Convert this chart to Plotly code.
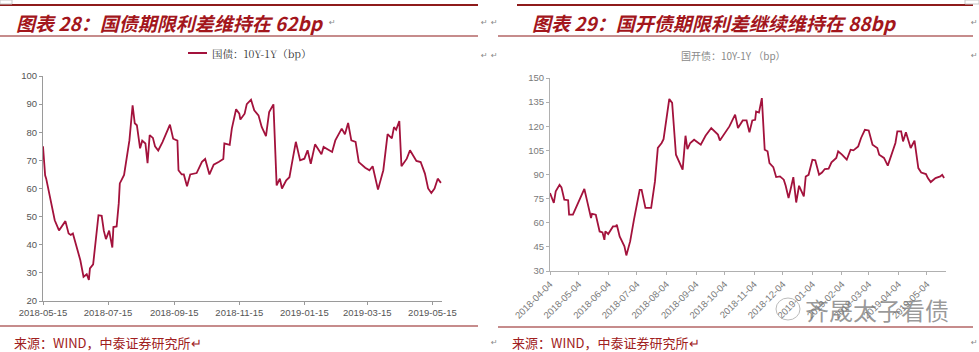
import plotly.graph_objects as go

# ---------------- data ----------------
left_dates = [
    "2018-05-15", "2018-05-17", "2018-05-18", "2018-05-22", "2018-05-24", "2018-05-26", "2018-05-30",
    "2018-06-01", "2018-06-05", "2018-06-08", "2018-06-10", "2018-06-12", "2018-06-16", "2018-06-19",
    "2018-06-22", "2018-06-25", "2018-06-27", "2018-06-28", "2018-07-01", "2018-07-04", "2018-07-06",
    "2018-07-09", "2018-07-11", "2018-07-13", "2018-07-16", "2018-07-19", "2018-07-20", "2018-07-23",
    "2018-07-25", "2018-07-26", "2018-07-30", "2018-08-04", "2018-08-07", "2018-08-09", "2018-08-11",
    "2018-08-14", "2018-08-16", "2018-08-19", "2018-08-21", "2018-08-23", "2018-08-26", "2018-08-28",
    "2018-08-31", "2018-09-04", "2018-09-11", "2018-09-14", "2018-09-18", "2018-09-19", "2018-09-22",
    "2018-09-24", "2018-09-27", "2018-09-30", "2018-10-06", "2018-10-11", "2018-10-14", "2018-10-18",
    "2018-10-22", "2018-10-27", "2018-10-31", "2018-11-01", "2018-11-06", "2018-11-08", "2018-11-12",
    "2018-11-15", "2018-11-16", "2018-11-20", "2018-11-22", "2018-11-26", "2018-11-29", "2018-12-03",
    "2018-12-06", "2018-12-10", "2018-12-13", "2018-12-17", "2018-12-20", "2018-12-23", "2018-12-25",
    "2018-12-29", "2019-01-01", "2019-01-03", "2019-01-07", "2019-01-11", "2019-01-15", "2019-01-18",
    "2019-01-21", "2019-01-25", "2019-01-31", "2019-02-02", "2019-02-10", "2019-02-13", "2019-02-19",
    "2019-02-22", "2019-02-25", "2019-02-28", "2019-03-04", "2019-03-07", "2019-03-13", "2019-03-17",
    "2019-03-20", "2019-03-25", "2019-03-30", "2019-04-03", "2019-04-07", "2019-04-09", "2019-04-11",
    "2019-04-14", "2019-04-16", "2019-04-21", "2019-04-24", "2019-04-30", "2019-05-04", "2019-05-08",
    "2019-05-11", "2019-05-14", "2019-05-17", "2019-05-20", "2019-05-23",
]
left_values = [
    75, 64.7, 63.5, 55.8, 52.2, 48.7, 45.1,
    46.3, 48.4, 44, 43.5, 44, 38, 34.5,
    28.6, 29.5, 27.5, 31.6, 33, 44, 50.5,
    50.3, 45, 42, 45, 39, 46.3, 46.5,
    54.7, 61.8, 64.8, 77.1, 89.6, 83.2, 82.5,
    74.3, 77, 76, 69, 79, 78, 75,
    73.5, 76.5, 82.7, 77.7, 77, 66.5, 65,
    65, 60.8, 65, 65.5, 69.5, 70.5, 65,
    68.5, 69.5, 70.5, 76, 75.5, 81.3, 88.2,
    86.6, 84.5, 86.6, 90, 91.6, 87.8, 86,
    81.9, 78.6, 87.2, 89.9, 61.1, 63.5, 60,
    62.9, 64, 68.2, 76.6, 70, 70.6, 73.6,
    68.8, 75.7, 72.2, 74.8, 73, 77.1, 81.3,
    79.3, 83.3, 77.1, 76.6, 69.4, 67.4, 66.5,
    67.9, 59.6, 66.5, 79.3, 77.8, 81.8, 80.9,
    84, 67.9, 70.6, 73.6, 69.8, 69.4, 65.3,
    60, 58.4, 60, 63.5, 62,
]

right_dates = [
    "2018-04-04", "2018-04-08", "2018-04-10", "2018-04-14", "2018-04-16", "2018-04-19", "2018-04-23",
    "2018-04-24", "2018-04-28", "2018-05-10", "2018-05-13", "2018-05-17", "2018-05-18", "2018-05-22",
    "2018-05-26", "2018-05-29", "2018-05-31", "2018-06-01", "2018-06-04", "2018-06-09", "2018-06-12",
    "2018-06-13", "2018-06-16", "2018-06-21", "2018-06-23", "2018-06-27", "2018-07-01", "2018-07-04",
    "2018-07-07", "2018-07-09", "2018-07-12", "2018-07-13", "2018-07-19", "2018-07-22", "2018-07-23",
    "2018-07-26", "2018-07-30", "2018-08-01", "2018-08-07", "2018-08-10", "2018-08-14", "2018-08-21",
    "2018-08-24", "2018-08-26", "2018-08-29", "2018-09-02", "2018-09-09", "2018-09-14", "2018-09-20",
    "2018-09-27", "2018-09-29", "2018-10-09", "2018-10-15", "2018-10-18", "2018-10-23", "2018-10-27",
    "2018-10-30", "2018-11-02", "2018-11-05", "2018-11-06", "2018-11-09", "2018-11-12", "2018-11-14",
    "2018-11-15", "2018-11-18", "2018-11-20", "2018-11-24", "2018-11-27", "2018-12-01", "2018-12-05",
    "2018-12-07", "2018-12-10", "2018-12-13", "2018-12-15", "2018-12-18", "2018-12-21", "2018-12-26",
    "2018-12-28", "2018-12-31", "2019-01-04", "2019-01-07", "2019-01-11", "2019-01-14", "2019-01-17",
    "2019-01-21", "2019-01-24", "2019-01-29", "2019-01-31", "2019-02-04", "2019-02-09", "2019-02-13",
    "2019-02-16", "2019-02-21", "2019-02-24", "2019-02-28", "2019-03-04", "2019-03-08", "2019-03-13",
    "2019-03-15", "2019-03-20", "2019-03-24", "2019-03-27", "2019-04-01", "2019-04-03", "2019-04-07",
    "2019-04-09", "2019-04-12", "2019-04-17", "2019-04-21", "2019-04-25", "2019-04-28", "2019-05-03",
    "2019-05-05", "2019-05-08", "2019-05-13", "2019-05-18", "2019-05-20", "2019-05-22",
]
right_values = [
    78.5, 72.3, 79.5, 83.6, 82, 74.3, 74,
    65, 65, 81, 73.3, 63, 65.5, 65,
    54.6, 54, 49.4, 54.6, 53, 57.7, 57.7,
    58.8, 51.5, 45.3, 39.7, 48.4, 61.9, 71.2,
    80.5, 80.5, 72.3, 69.2, 69.2, 80.5, 85.7,
    106.5, 109.6, 112, 137, 134.5, 102.3, 93,
    114.1, 105.8, 109.6, 111.6, 108.5, 114.1, 118.9,
    114.8, 111.2, 119.9, 127.2, 118.9, 123.6, 123.6,
    116.2, 123.6, 124, 129.2, 128.5, 137.5, 119.9,
    105.4, 104.4, 97.1, 94.6, 88.4, 88.8, 86.8,
    83, 75.4, 83, 88.4, 72.6, 83, 76.4,
    88.8, 89.8, 99.2, 98.8, 89.8, 91.2, 93.4,
    93.6, 97.6, 100.3, 104.4, 102.4, 99.2, 105.4,
    105, 107.5, 112.7, 117.8, 117.4, 108.5, 106.5,
    102.3, 100.3, 95.5, 101.3, 109.6, 116.8, 116.8,
    110.6, 116.2, 106.5, 111, 94, 91.2, 90.3,
    87.8, 85.3, 87.8, 88.8, 89.8, 87.8,
]

left_ticks = ["2018-05-15", "2018-07-15", "2018-09-15", "2018-11-15",
              "2019-01-15", "2019-03-15", "2019-05-15"]
right_ticks = ["2018-04-04", "2018-05-04", "2018-06-04", "2018-07-04", "2018-08-04",
               "2018-09-04", "2018-10-04", "2018-11-04", "2018-12-04", "2019-01-04",
               "2019-02-04", "2019-03-04", "2019-04-04", "2019-05-04"]

left_title = "图表 28：国债期限利差维持在 62bp"
right_title = "图表 29：国开债期限利差继续维持在 88bp"
left_legend = "国债：10Y-1Y（bp）"
right_legend = "国开债：10Y-1Y （bp）"
source_text = "来源：WIND，中泰证券研究所"
watermark = "齐晟太子看债"

# ---------------- layout helpers ----------------
W, H = 979, 352
def px(x):
    return x / W
def py(y):
    return 1 - y / H

LINE = "#A3123C"
DARKRED = "#A3161C"
CJK = "Noto Sans CJK SC"

fig = go.Figure()
fig.add_trace(go.Scatter(x=left_dates, y=left_values, mode="lines",
                         line=dict(color=LINE, width=1.8), xaxis="x", yaxis="y",
                         showlegend=False, hoverinfo="skip"))
fig.add_trace(go.Scatter(x=right_dates, y=right_values, mode="lines",
                         line=dict(color=LINE, width=1.8), xaxis="x2", yaxis="y2",
                         showlegend=False, hoverinfo="skip"))

axfont = dict(family="Arial, Liberation Sans", size=9.5, color="#555555")
axfont2 = dict(family="Arial, Liberation Sans", size=9.5, color="#7a7a7a")

fig.update_layout(
    width=W, height=H, margin=dict(l=0, r=0, t=0, b=0, autoexpand=False),
    paper_bgcolor="white", plot_bgcolor="white",
    xaxis=dict(domain=[px(43), px(442)], type="date",
               range=["2018-05-15", "2019-05-24"],
               tickvals=left_ticks, ticktext=left_ticks, automargin=False,
               showgrid=False, zeroline=False, showline=True, linecolor="#9a9a9a",
               ticks="outside", ticklen=3, tickcolor="#9a9a9a", tickfont=axfont,
               anchor="y"),
    yaxis=dict(domain=[py(301), py(76)], range=[20, 100], dtick=10, automargin=False,
               showgrid=False, zeroline=False, showline=True, linecolor="#9a9a9a",
               ticks="outside", ticklen=3, tickcolor="#9a9a9a", tickfont=axfont,
               anchor="x"),
    xaxis2=dict(domain=[px(550), px(946)], type="date",
                range=["2018-04-04", "2019-05-24"], automargin=False,
                tickvals=right_ticks, ticktext=right_ticks, tickangle=-45,
                showgrid=False, zeroline=False, showline=True, linecolor="#b0b0b0",
                ticks="outside", ticklen=3, tickcolor="#b0b0b0", tickfont=axfont2,
                anchor="y2"),
    yaxis2=dict(domain=[py(271), py(78)], range=[30, 150], dtick=15, automargin=False,
                showgrid=False, zeroline=False, showline=True, linecolor="#b0b0b0",
                ticks="outside", ticklen=3, tickcolor="#b0b0b0", tickfont=axfont2,
                anchor="x2"),
)

shapes = []
# header rules
shapes.append(dict(type="line", xref="paper", yref="paper", x0=px(0), x1=px(478), y0=py(5), y1=py(5),
                   line=dict(color="#8E1B1B", width=2)))
shapes.append(dict(type="line", xref="paper", yref="paper", x0=px(0), x1=px(478), y0=py(36), y1=py(36),
                   line=dict(color="#8E1B1B", width=1.2)))
shapes.append(dict(type="line", xref="paper", yref="paper", x0=px(517), x1=px(973), y0=py(5), y1=py(5),
                   line=dict(color="#8E1B1B", width=2)))
shapes.append(dict(type="line", xref="paper", yref="paper", x0=px(498), x1=px(973), y0=py(36), y1=py(36),
                   line=dict(color="#8E1B1B", width=1.2)))
# footer rules
shapes.append(dict(type="line", xref="paper", yref="paper", x0=px(0), x1=px(478), y0=py(326), y1=py(326),
                   line=dict(color="#8E1B1B", width=1.2)))
shapes.append(dict(type="line", xref="paper", yref="paper", x0=px(498), x1=px(973), y0=py(327), y1=py(327),
                   line=dict(color="#8E1B1B", width=1.2)))
# legend swatch (left)
shapes.append(dict(type="line", xref="paper", yref="paper", x0=px(188), x1=px(207), y0=py(53), y1=py(53),
                   line=dict(color=LINE, width=2)))
# corner marks
shapes.append(dict(type="rect", xref="paper", yref="paper", x0=px(0), x1=px(12), y0=py(0), y1=py(4),
                   line=dict(color="#c8c8c8", width=1)))
shapes.append(dict(type="rect", xref="paper", yref="paper", x0=px(965), x1=px(979), y0=py(0), y1=py(4),
                   line=dict(color="#c8c8c8", width=1)))
# watermark bubble
shapes.append(dict(type="circle", xref="paper", yref="paper", x0=px(776), x1=px(800), y0=py(320), y1=py(298),
                   line=dict(color="#bbbbbb", width=1)))
fig.update_layout(shapes=shapes)

ann = []
title_font = dict(family=CJK, size=19, color=DARKRED, weight="bold", style="italic")
ann.append(dict(text=left_title, x=px(14), y=py(22), xref="paper", yref="paper", align="left",
                xanchor="left", yanchor="middle", showarrow=False, font=title_font))
ann.append(dict(text=right_title, x=px(530), y=py(22), xref="paper", yref="paper", align="left",
                xanchor="left", yanchor="middle", showarrow=False, font=title_font))
ann.append(dict(text=left_legend, x=px(210), y=py(53), xref="paper", yref="paper", align="left",
                xanchor="left", yanchor="middle", showarrow=False,
                font=dict(family="Noto Serif CJK SC, " + CJK, size=10.5, color="#333333")))
ann.append(dict(text=right_legend, x=px(733), y=py(55), xref="paper", yref="paper",
                xanchor="center", yanchor="middle", showarrow=False,
                font=dict(family=CJK, size=10, color="#8a8a8a")))
src_font = dict(family="Noto Sans CJK SC", size=13, color="#A02020")
ann.append(dict(text=source_text + "↵", x=px(12), y=py(342), xref="paper", yref="paper", align="left",
                xanchor="left", yanchor="middle", showarrow=False, font=src_font))
ann.append(dict(text=source_text + "↵", x=px(510), y=py(342), xref="paper", yref="paper", align="left",
                xanchor="left", yanchor="middle", showarrow=False, font=src_font))
ann.append(dict(text=watermark, x=px(803), y=py(309), xref="paper", yref="paper", align="left",
                xanchor="left", yanchor="middle", showarrow=False,
                font=dict(family=CJK, size=24, color="rgba(120,120,120,0.75)")))
# paragraph marks
for (x, y) in [(332, 22), (484, 22), (484, 55), (494, 22), (494, 55), (974, 22), (974, 55), (494, 342), (974, 342)]:
    ann.append(dict(text="↵", x=px(x), y=py(y), xref="paper", yref="paper",
                    xanchor="center", yanchor="middle", showarrow=False,
                    font=dict(family="DejaVu Sans", size=8, color="#888888")))
fig.update_layout(annotations=ann)

fig.write_html("out.html")
